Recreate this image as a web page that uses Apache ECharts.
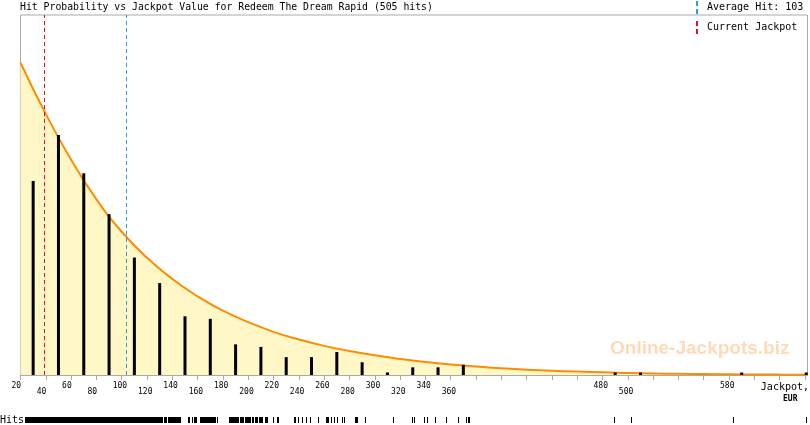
<!DOCTYPE html>
<html>
<head>
<meta charset="utf-8">
<title>Hit Probability vs Jackpot Value</title>
<script src="https://cdn.jsdelivr.net/npm/echarts@6/dist/echarts.min.js"></script>
<style>
html, body { margin: 0; padding: 0; background: #fff; }
#chart { width: 810px; height: 425px; }
</style>
</head>
<body>
<div id="chart"></div>
<script>
// bins of 20 EUR, hit counts per bin
var binCenters = [30, 50, 70, 90, 110, 130, 150, 170, 190, 210, 230, 250, 270, 290, 310, 330, 350, 370, 490, 510, 590, 641];
var binHits = [76, 94, 79, 63, 46, 36, 23, 22, 12, 11, 7, 7, 9, 5, 1, 3, 3, 4, 1, 1, 1, 1];

// probability curve (same units as bins)
var curveX = [20, 40, 60, 80, 100, 120, 140, 160, 180, 200, 220, 240, 260, 280, 300, 320, 340, 360, 380, 400, 420, 440, 460, 480, 500, 520, 540, 560, 580, 600, 620, 642];
var curveY = [122.3, 102.2, 84.3, 68.8, 56.1, 45.9, 37.6, 30.8, 25.2, 20.7, 16.9, 13.9, 11.4, 9.4, 7.7, 6.3, 5.1, 4.1, 3.3, 2.6, 2.1, 1.7, 1.35, 1.05, 0.8, 0.6, 0.45, 0.35, 0.27, 0.2, 0.15, 0.1];

// labelled ticks on the jackpot axis
var xLabelValues = [20, 40, 60, 80, 100, 120, 140, 160, 180, 200, 220, 240, 260, 280, 300, 320, 340, 360, 480, 500, 580];

// single hits strip (EUR from / to)
var rugRanges = [
  [23.4, 71.6], [72.7, 93.0], [93.8, 100.3], [101.1, 107.4], [108.2, 116.7], [117.5, 130.1], [130.9, 132.1], [133.3, 134.9], [136.2, 145.9],
  [152.5, 153.3], [155.2, 155.7], [157.2, 158.6], [161.8, 164.4], [165.1, 171.0], [172.3, 173.6], [175.4, 175.4],
  [184.9, 188.1], [188.9, 190.0], [191.3, 192.1], [193.4, 194.7], [196.0, 196.0], [197.6, 198.7], [199.9, 201.3], [202.6, 203.9],
  [205.2, 207.0], [208.4, 211.0], [213.1, 214.5], [219.7, 219.7], [222.4, 223.6],
  [236.0, 236.8], [239.0, 239.0], [242.1, 242.1], [245.5, 245.5], [248.7, 248.7], [255.3, 255.3], [261.1, 261.9], [263.2, 263.2],
  [265.3, 265.3], [267.9, 267.9], [269.8, 269.8], [273.8, 273.8], [275.6, 275.6], [284.3, 285.6], [292.2, 292.2], [314.5, 314.5],
  [329.3, 329.3], [330.9, 330.9], [338.9, 338.9], [341.3, 341.3], [347.7, 347.7], [356.4, 356.4], [365.9, 365.9],
  [372.2, 372.2], [373.8, 373.8], [374.6, 374.6], [489.3, 489.3], [502.8, 502.8], [583.4, 583.4], [641.1, 641.1]
];

var currentJackpot = 38.7;
var averageHit = 103.4;
var totalHits = 505;

var mono = 'DejaVu Sans Mono';
var dashIcon = 'path://M0,0h2v5h-2zM0,8h2v5h-2z';
var avgName = 'Average Hit: ' + Math.round(averageHit);

var myChart = echarts.init(document.getElementById('chart'));

myChart.setOption({
  animation: false,
  title: {
    text: 'Hit Probability vs Jackpot Value for Redeem The Dream Rapid (' + totalHits + ' hits)',
    left: 20,
    top: 2,
    padding: 0,
    textStyle: { fontFamily: mono, fontSize: 9.8, fontWeight: 'normal', color: '#000' }
  },
  legend: {
    orient: 'vertical',
    left: 696,
    top: 1,
    padding: 0,
    itemWidth: 2,
    itemHeight: 13,
    itemGap: 7,
    selectedMode: false,
    textStyle: { fontFamily: mono, fontSize: 10, color: '#000', padding: [0, 0, 0, 4] },
    data: [
      { name: avgName, icon: dashIcon },
      { name: 'Current Jackpot', icon: dashIcon }
    ]
  },
  grid: [
    { left: 20.5, right: 2.5, top: 15, bottom: 50, show: true, borderColor: '#aaa', borderWidth: 1 },
    { left: 20.5, right: 2.5, top: 417, height: 6, show: false }
  ],
  xAxis: [{
    type: 'value',
    min: 20,
    max: 642,
    interval: 20,
    axisLine: { lineStyle: { color: '#aaa' } },
    axisTick: { length: 5, lineStyle: { color: '#aaa' } },
    splitLine: { show: false },
    axisLabel: {
      margin: 6,
      showMaxLabel: false,
      formatter: function (v) {
        var i = xLabelValues.indexOf(v);
        if (i < 0) return '';
        return (i % 2 === 0 ? '{a|' : '{b|') + v + '}';
      },
      rich: {
        a: { fontFamily: mono, fontSize: 8, color: '#000', width: 18, align: 'left', lineHeight: 9 },
        b: { fontFamily: mono, fontSize: 8, color: '#000', width: 18, align: 'left', lineHeight: 9, padding: [13, 0, 0, 0] }
      }
    }
  }, {
    type: 'value', gridIndex: 1, min: 20, max: 642, show: false
  }],
  yAxis: [{
    type: 'value', min: 0, max: 141, show: false
  }, {
    type: 'value', gridIndex: 1, min: 0, max: 1, show: false
  }],
  graphic: [
    {
      type: 'text', left: 610, top: 339, z: 0,
      style: { text: 'Online-Jackpots.biz', font: 'bold 19px "Liberation Sans", Arial', fill: '#fedab6' }
    },
    {
      type: 'text', right: 1, top: 382,
      style: { text: 'Jackpot,', font: '10px "DejaVu Sans Mono"', fill: '#000' }
    },
    {
      type: 'text', left: 783, top: 395,
      style: { text: 'EUR', font: 'bold 8px "DejaVu Sans Mono"', fill: '#000' }
    },
    {
      type: 'text', left: 0, top: 415,
      style: { text: 'Hits', font: '10px "DejaVu Sans Mono"', fill: '#000' }
    }
  ],
  series: [{
    name: 'probability',
    type: 'line',
    smooth: 0.5,
    symbol: 'none',
    z: 1,
    lineStyle: { color: '#ff8c00', width: 2 },
    itemStyle: { color: '#ff8c00' },
    areaStyle: { color: '#fff8c6', opacity: 1 },
    data: curveX.map(function (x, i) { return [x, curveY[i]]; })
  }, {
    name: 'hits',
    type: 'bar',
    barWidth: 3,
    z: 3,
    itemStyle: { color: '#000' },
    data: binCenters.map(function (x, i) { return [x, binHits[i]]; })
  }, {
    name: avgName,
    type: 'line',
    z: 4,
    data: [],
    itemStyle: { color: '#2b9de0' },
    lineStyle: { color: '#2b9de0' },
    markLine: {
      silent: true,
      symbol: 'none',
      label: { show: false },
      lineStyle: { color: '#2b9de0', type: [4, 3], width: 1 },
      data: [{ xAxis: averageHit }]
    }
  }, {
    name: 'Current Jackpot',
    type: 'line',
    z: 4,
    data: [],
    itemStyle: { color: '#e3121b' },
    lineStyle: { color: '#e3121b' },
    markLine: {
      silent: true,
      symbol: 'none',
      label: { show: false },
      lineStyle: { color: '#e3121b', type: [4, 3], width: 1 },
      data: [{ xAxis: currentJackpot }]
    }
  }, {
    name: 'rug',
    type: 'custom',
    xAxisIndex: 1,
    yAxisIndex: 1,
    encode: { x: [0, 1] },
    renderItem: function (params, api) {
      var a = api.coord([api.value(0), 1]);
      var b = api.coord([api.value(1), 0]);
      var x0 = Math.round(a[0]);
      var w = Math.max(1, Math.round(b[0]) - x0 + 1);
      return {
        type: 'rect',
        shape: { x: x0, y: a[1], width: w, height: b[1] - a[1] },
        style: { fill: '#000' }
      };
    },
    data: rugRanges
  }]
});
</script>
</body>
</html>
